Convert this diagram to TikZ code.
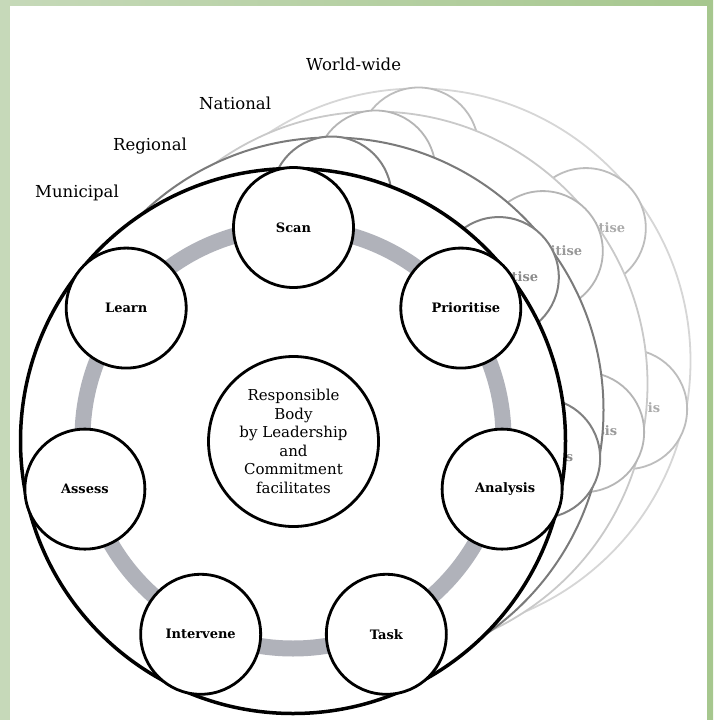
\documentclass[tikz,border=0pt]{standalone}
\usepackage{fontspec}
\setmainfont{DejaVu Serif}
\usetikzlibrary{calc}
\definecolor{ringgray}{RGB}{176,178,186}
\definecolor{greenL}{RGB}{198,217,185}
\definecolor{greenR}{RGB}{166,199,142}
\tikzset{
  satbase/.style={circle, inner sep=0pt, minimum size=120pt, fill=white,
    font=\fontsize{13}{15}\selectfont\bfseries},
  frontsat/.style={satbase, draw=black, line width=2.8pt},
  backsat/.style={satbase, line width=2pt},
  bigcirc/.style={circle, inner sep=0pt, minimum size=545pt, fill=white},
  lvl/.style={anchor=base west, inner sep=0pt, font=\fontsize{16.5}{20}\selectfont},
}
\begin{document}
\begin{tikzpicture}[x=1pt,y=-1pt]
\useasboundingbox (0,0) rectangle (713,720);
% background frame
\shade[left color=greenL, right color=greenR] (0,0) rectangle (713,720);
\fill[white] (10,6) rectangle (707,720);

% back layers
\foreach \lname/\dx/\dy/\bigc/\satc/\txtc/\lw in {
    L4/125/-80/black!16/black!26/black!33/1.8,
    L3/82/-57/black!21/black!29/black!40/1.8,
    L2/38/-31/black!52/black!50/black!45/2}{
  \node[bigcirc, draw=\bigc, line width=\lw pt] (\lname-big) at ({293+\dx},{441+\dy}) {};
  \node[backsat, draw=\satc, line width=\lw pt] (\lname-scan) at ({293.5+\dx},{441.5+\dy-214}) {};
  \node[backsat, draw=\satc, line width=\lw pt, text=\txtc] (\lname-prio)
     at ({293.5+\dx+214*cos(38.5714)},{441.5+\dy-214*sin(38.5714)}) {\hspace*{10pt}Prioritise};
  \node[backsat, draw=\satc, line width=\lw pt, text=\txtc] (\lname-ana)
     at ({293.5+\dx+214*cos(-12.857)},{441.5+\dy-214*sin(-12.857)}) {\hspace*{6pt}Analysis};
}

% front layer
\node[bigcirc, draw=black, line width=3.5pt] (muni) at (293,441) {};
\draw[ringgray, line width=16pt] (293,438) circle[radius=210.5pt];
\foreach \k/\nm/\txt in {0/scan/Scan,1/prio/\hspace*{10pt}Prioritise,2/ana/\hspace*{6pt}Analysis,3/task/Task,
                          4/interv/Intervene,5/assess/Assess,6/learn/Learn}{
  \pgfmathsetmacro\ang{90-\k*360/7}
  \node[frontsat] (\nm) at ({293.5+214*cos(\ang)},{441.5-214*sin(\ang)}) {\txt};
}
\node[frontsat, minimum size=170pt, align=center,
      font=\fontsize{15}{18.6}\selectfont] (body) at (293.5,441.5)
  {Responsible\\Body\\by Leadership\\and\\Commitment\\facilitates};

% level labels
\node[lvl] (lmuni) at (35,197) {Municipal};
\node[lvl] (lreg) at (113,150) {Regional};
\node[lvl] (lnat) at (199,109) {National};
\node[lvl] (lworld) at (306,70) {World-wide};
\end{tikzpicture}
\end{document}
